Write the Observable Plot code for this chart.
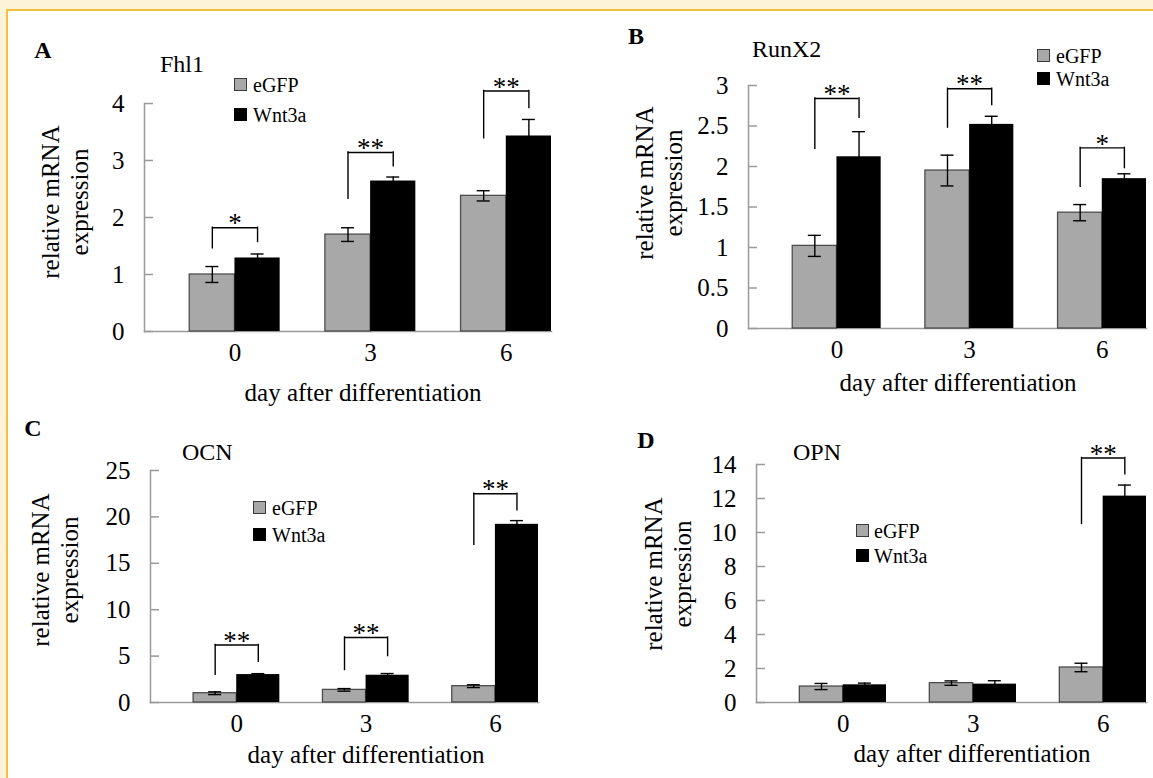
<!DOCTYPE html>
<html>
<head>
<meta charset="utf-8">
<title>Fhl1, RunX2, OCN and OPN mRNA expression</title>
<script src="https://cdn.jsdelivr.net/npm/d3@7"></script>
<script src="https://cdn.jsdelivr.net/npm/@observablehq/plot@0.6"></script>
<style>
  html, body { margin: 0; padding: 0; }
  body { width: 1153px; height: 778px; overflow: hidden; position: relative; background: #fdf3d9;
         font-family: "Liberation Serif", "Times New Roman", serif; color: #000; }
  #sheet { position: absolute; left: 6px; top: 9px; width: 1147px; height: 769px; background: #fff;
           border-left: 2px solid #f3c13a; border-top: 2px solid #f3c13a; }
  #root { position: absolute; left: 0; top: 0; width: 1153px; height: 778px; }
  .panel { position: absolute; }
  .t { position: absolute; white-space: nowrap; line-height: 1; }
  .sq { position: absolute; box-sizing: border-box; width: 13px; height: 13px; }
  .ylab { position: absolute; white-space: nowrap; text-align: center; font-size: 25px; line-height: 29px;
          transform: translate(-50%, -50%) rotate(-90deg); }
</style>
</head>
<body>
<div id="sheet"></div>
<div id="root"></div>
<script>
// ---------- shared categories / labels ----------
const days = ["0", "3", "6"];
const seriesNames = ["eGFP", "Wnt3a"];
const seriesFill = ["#a8a8a8", "#000000"];
const xTitle = "day after differentiation";
const yTitleLines = ["relative mRNA", "expression"];

// ---------- A: Fhl1 ----------
const fhl1EGFP = [1.00, 1.70, 2.38];
const fhl1EGFPErr = [0.14, 0.12, 0.09];
const fhl1Wnt3a = [1.29, 2.64, 3.43];
const fhl1Wnt3aErr = [0.07, 0.07, 0.29];
const fhl1Sig = ["*", "**", "**"];
const fhl1BracketTop = [1.82, 3.14, 4.22];
const fhl1BracketLeft = [1.46, 2.33, 3.39];
const fhl1BracketRight = [1.57, 2.90, 3.92];
const fhl1Ticks = [0, 1, 2, 3, 4];

// ---------- B: RunX2 ----------
const runx2EGFP = [1.02, 1.95, 1.43];
const runx2EGFPErr = [0.13, 0.19, 0.10];
const runx2Wnt3a = [2.12, 2.52, 1.85];
const runx2Wnt3aErr = [0.31, 0.10, 0.06];
const runx2Sig = ["**", "**", "*"];
const runx2BracketTop = [2.84, 2.96, 2.23];
const runx2BracketLeft = [2.22, 2.48, 1.75];
const runx2BracketRight = [2.60, 2.76, 1.98];
const runx2Ticks = [0, 0.5, 1, 1.5, 2, 2.5, 3];

// ---------- C: OCN ----------
const ocnEGFP = [1.00, 1.36, 1.76];
const ocnEGFPErr = [0.15, 0.14, 0.15];
const ocnWnt3a = [3.01, 2.94, 19.2];
const ocnWnt3aErr = [0.10, 0.18, 0.40];
const ocnSig = ["**", "**", "**"];
const ocnBracketTop = [6.2, 7.0, 22.5];
const ocnBracketLeft = [2.98, 3.5, 17.0];
const ocnBracketRight = [4.38, 5.0, 20.7];
const ocnTicks = [0, 5, 10, 15, 20, 25];

// ---------- D: OPN ----------
const opnEGFP = [0.94, 1.14, 2.06];
const opnEGFPErr = [0.18, 0.13, 0.25];
const opnWnt3a = [1.04, 1.08, 12.14];
const opnWnt3aErr = [0.10, 0.20, 0.65];
const opnSig = [null, null, "**"];
const opnBracketTop = [null, null, 14.38];
const opnBracketLeft = [null, null, 10.5];
const opnBracketRight = [null, null, 13.43];
const opnTicks = [0, 2, 4, 6, 8, 10, 12, 14];

// ---------- layout (page pixels) ----------
const panels = [
  {letter: "A", gene: "Fhl1", eg: fhl1EGFP, egErr: fhl1EGFPErr, wn: fhl1Wnt3a, wnErr: fhl1Wnt3aErr,
   sig: fhl1Sig, top: fhl1BracketTop, left: fhl1BracketLeft, right: fhl1BracketRight, ticks: fhl1Ticks, ymax: 4,
   box: [0, 60, 576, 320], frame: [144, 551, 103, 331],
   letterAt: [43, 50], geneAt: [160, 64], legend: [234, 78, 108, 253], yLabAt: [65, 202], xTitleAt: [363, 392]},
  {letter: "B", gene: "RunX2", eg: runx2EGFP, egErr: runx2EGFPErr, wn: runx2Wnt3a, wnErr: runx2Wnt3aErr,
   sig: runx2Sig, top: runx2BracketTop, left: runx2BracketLeft, right: runx2BracketRight, ticks: runx2Ticks, ymax: 3,
   box: [576, 40, 577, 340], frame: [748, 1146, 85, 328],
   letterAt: [636, 36], geneAt: [752, 49], legend: [1037, 49, 72, 1056], yLabAt: [659, 183], xTitleAt: [958, 382]},
  {letter: "C", gene: "OCN", eg: ocnEGFP, egErr: ocnEGFPErr, wn: ocnWnt3a, wnErr: ocnWnt3aErr,
   sig: ocnSig, top: ocnBracketTop, left: ocnBracketLeft, right: ocnBracketRight, ticks: ocnTicks, ymax: 25,
   box: [0, 420, 576, 340], frame: [150, 538, 470, 702],
   letterAt: [33, 428], geneAt: [182, 452], legend: [253, 501, 528, 272], yLabAt: [55, 570], xTitleAt: [366, 754]},
  {letter: "D", gene: "OPN", eg: opnEGFP, egErr: opnEGFPErr, wn: opnWnt3a, wnErr: opnWnt3aErr,
   sig: opnSig, top: opnBracketTop, left: opnBracketLeft, right: opnBracketRight, ticks: opnTicks, ymax: 14,
   box: [576, 420, 577, 340], frame: [756, 1146, 464, 702],
   letterAt: [646, 440], geneAt: [793, 452], legend: [856, 524, 549, 874], yLabAt: [668, 574], xTitleAt: [972, 753]}
];

const root = document.getElementById("root");
const axisColor = "#9a9a9a";

function addText(str, x, y, size, {bold = false, center = false} = {}) {
  const el = document.createElement("div");
  el.className = "t";
  el.textContent = str;
  el.style.left = x + "px";
  el.style.top = y + "px";
  el.style.fontSize = size + "px";
  if (bold) el.style.fontWeight = "bold";
  el.style.transform = center ? "translate(-50%, -50%)" : "translate(0, -50%)";
  root.appendChild(el);
}

function drawPanel(p) {
  const [bx, by, w, h] = p.box;
  const [L, R, T, B] = p.frame;
  const ml = L - bx, mr = bx + w - R, mt = T - by, mb = by + h - B;
  const xOpts = {type: "band", domain: days, paddingInner: 1 / 3, paddingOuter: 1 / 6, align: 1, round: false};
  const bw = Plot.scale({x: {...xOpts, range: [ml, w - mr]}}).bandwidth;
  const q = bw / 4, cap = 6.5;

  const rows = days.map((d, i) => ({
    day: d, eg: p.eg[i], egE: p.egErr[i], wn: p.wn[i], wnE: p.wnErr[i],
    sig: p.sig[i], top: p.top[i], left: p.left[i], right: p.right[i]
  }));
  const sigRows = rows.filter(r => r.sig);
  const line = {stroke: "#000", strokeWidth: 1.4};

  const svg = Plot.plot({
    width: w, height: h,
    marginLeft: ml, marginRight: mr, marginTop: mt, marginBottom: mb,
    x: xOpts,
    y: {domain: [0, p.ymax]},
    style: {fontFamily: "Liberation Serif, Times New Roman, serif", fontSize: "25px", background: "transparent",
            color: "#000", overflow: "visible"},
    marks: [
      Plot.frame({anchor: "left", stroke: axisColor, strokeWidth: 1.5}),
      Plot.frame({anchor: "bottom", stroke: axisColor, strokeWidth: 1.5}),
      Plot.barY(rows, {x: "day", y: "eg", fill: seriesFill[0], stroke: "#4d4d4d", strokeWidth: 1.3, insetRight: bw / 2}),
      Plot.barY(rows, {x: "day", y: "wn", fill: seriesFill[1], insetLeft: bw / 2}),
      // error bars – eGFP
      Plot.ruleX(rows, {x: "day", y1: r => r.eg - r.egE, y2: r => r.eg + r.egE, dx: -q, ...line}),
      Plot.ruleY(rows, {x1: "day", x2: "day", y: r => r.eg + r.egE, insetLeft: q - cap, insetRight: 3 * q - cap, ...line}),
      Plot.ruleY(rows, {x1: "day", x2: "day", y: r => r.eg - r.egE, insetLeft: q - cap, insetRight: 3 * q - cap, ...line}),
      // error bars – Wnt3a
      Plot.ruleX(rows, {x: "day", y1: r => r.wn - r.wnE, y2: r => r.wn + r.wnE, dx: q, ...line}),
      Plot.ruleY(rows, {x1: "day", x2: "day", y: r => r.wn + r.wnE, insetLeft: 3 * q - cap, insetRight: q - cap, ...line}),
      // significance brackets
      Plot.ruleX(sigRows, {x: "day", y1: "left", y2: "top", dx: -q, ...line, strokeLinecap: "square"}),
      Plot.ruleX(sigRows, {x: "day", y1: "right", y2: "top", dx: q, ...line, strokeLinecap: "square"}),
      Plot.ruleY(sigRows, {x1: "day", x2: "day", y: "top", insetLeft: q, insetRight: q, ...line}),
      Plot.text(sigRows, {x: "day", y: "top", text: "sig", dy: -4, lineAnchor: "middle", fontSize: 27}),
      // axes
      Plot.axisY({ticks: p.ticks, tickSize: -9, tickPadding: 29, tickFormat: d => String(d), fontSize: 25,
                  stroke: axisColor, strokeWidth: 1.5, label: null}),
      Plot.axisX({tickSize: 0, tickPadding: 12, fontSize: 25, label: null})
    ]
  });

  const holder = document.createElement("div");
  holder.className = "panel";
  holder.style.left = bx + "px";
  holder.style.top = by + "px";
  holder.style.width = w + "px";
  holder.style.height = h + "px";
  holder.appendChild(svg);
  root.appendChild(holder);

  // panel letter, gene name
  addText(p.letter, p.letterAt[0], p.letterAt[1], 24, {bold: true, center: true});
  addText(p.gene, p.geneAt[0], p.geneAt[1], 24);

  // legend
  const [sx, gy, ky, tx] = p.legend;
  [gy, ky].forEach((yy, i) => {
    const s = document.createElement("div");
    s.className = "sq";
    s.style.left = sx + "px";
    s.style.top = yy + "px";
    s.style.background = seriesFill[i];
    s.style.border = i === 0 ? "1px solid #3a3a3a" : "1px solid #000";
    root.appendChild(s);
    addText(seriesNames[i], tx, yy + 7, 20);
  });

  // y title (two lines, rotated)
  const yl = document.createElement("div");
  yl.className = "ylab";
  yl.style.left = p.yLabAt[0] + "px";
  yl.style.top = p.yLabAt[1] + "px";
  yTitleLines.forEach(s => { const d = document.createElement("div"); d.textContent = s; yl.appendChild(d); });
  root.appendChild(yl);

  // x title
  addText(xTitle, p.xTitleAt[0], p.xTitleAt[1], 25, {center: true});
}

panels.forEach(drawPanel);
</script>
</body>
</html>
